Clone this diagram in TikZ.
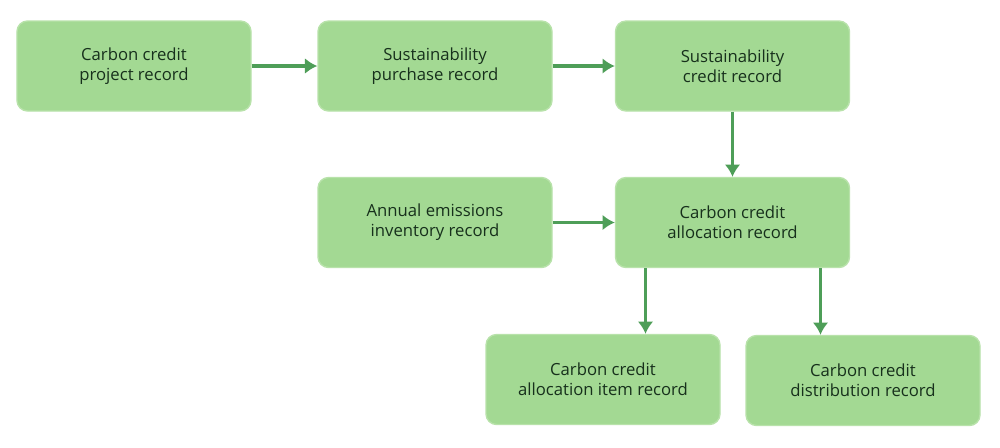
\documentclass[tikz,border=0pt]{standalone}
\usepackage{fontspec}
\setmainfont{Open Sans}
\usetikzlibrary{calc,arrows.meta}
\definecolor{boxgreen}{HTML}{A3D993}
\definecolor{boxline}{HTML}{B8E2AA}
\definecolor{arrowgreen}{HTML}{4E9E58}
\definecolor{textdark}{HTML}{17301C}
\begin{document}
\begin{tikzpicture}[scale = 1]
	\tikzstyle{record}=[draw=boxline,line width=.8pt,fill=boxgreen,rounded corners=6pt,minimum width=4.68cm,minimum height=1.8cm,align=center,text=textdark,font=\fontsize{9.5}{11.5}\selectfont]
	\tikzstyle{flow}=[draw=arrowgreen,line width=2.2pt,-{Latex[length=7pt,width=9pt]}]
	\useasboundingbox (0,0) rectangle (20,-8.94);
	\node[record] (project) at (2.68,-1.32) {Carbon credit\\project record};
	\node[record] (purchase) at (8.70,-1.32) {Sustainability\\purchase record};
	\node[record] (credit) at (14.65,-1.32) {Sustainability\\credit record};
	\node[record] (inventory) at (8.70,-4.45) {Annual emissions\\inventory record};
	\node[record] (alloc) at (14.65,-4.45) {Carbon credit\\allocation record};
	\node[record] (item) at (12.06,-7.59) {Carbon credit\\allocation item record};
	\node[record] (distrib) at (17.26,-7.61) {Carbon credit\\distribution record};
	\draw[flow] (project) -- (purchase);
	\draw[flow] (purchase) -- (credit);
	\draw[flow] (credit) -- (alloc);
	\draw[flow] (inventory) -- (alloc);
	\coordinate (itemstart) at ([xshift=-1.74cm]alloc.south);
	\coordinate (diststart) at ([xshift=1.76cm]alloc.south);
	\draw[flow] (itemstart) -- (itemstart |- item.north);
	\draw[flow] (diststart) -- (diststart |- distrib.north);
\end{tikzpicture}
\end{document}
